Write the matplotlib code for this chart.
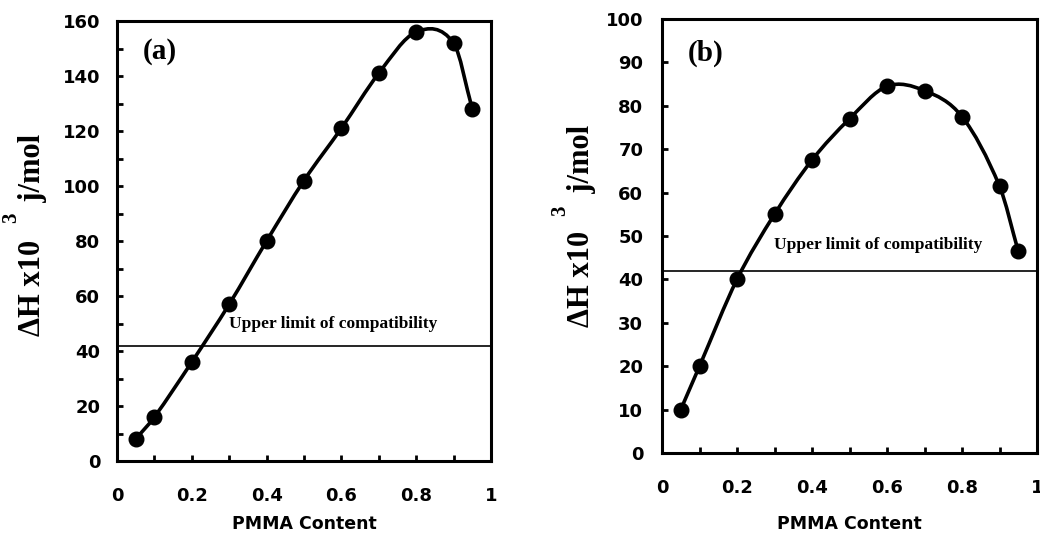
import numpy as np
import matplotlib
matplotlib.use('Agg')
import matplotlib.pyplot as plt
from matplotlib.path import Path
from matplotlib.patches import PathPatch

# data
pmma = [0.05, 0.1, 0.2, 0.3, 0.4, 0.5, 0.6, 0.7, 0.8, 0.9, 0.95]
dh_a = [8, 16, 36, 57, 80, 102, 121, 141, 156, 152, 128]
dh_b = [10, 20, 40, 55, 67.5, 77, 84.5, 83.5, 77.5, 61.5, 46.5]
limit = 42
panel_labels = ['(a)', '(b)']
xtick_vals = [0, 0.2, 0.4, 0.6, 0.8, 1]
xtick_text = ['0', '0.2', '0.4', '0.6', '0.8', '1']


def smooth_path(x, y):
    # Catmull-Rom through the points, drawn as cubic Bezier segments
    x = np.asarray(x, float)
    y = np.asarray(y, float)
    n = len(x)
    verts = [(x[0], y[0])]
    codes = [Path.MOVETO]
    for i in range(n - 1):
        i0 = max(i - 1, 0)
        i3 = min(i + 2, n - 1)
        h = x[i + 1] - x[i]
        m1 = (y[i + 1] - y[i0]) / (x[i + 1] - x[i0])
        m2 = (y[i3] - y[i]) / (x[i3] - x[i])
        verts += [(x[i] + h / 3, y[i] + m1 * h / 3),
                  (x[i + 1] - h / 3, y[i + 1] - m2 * h / 3),
                  (x[i + 1], y[i + 1])]
        codes += [Path.CURVE4] * 3
    return Path(verts, codes)


fig = plt.figure(figsize=(10.4, 5.42), dpi=100)
ax_a = fig.add_axes([117 / 1040, 1 - 461 / 542, 374 / 1040, 440 / 542])
ax_b = fig.add_axes([662 / 1040, 1 - 453 / 542, 375 / 1040, 434 / 542])

# ax, values, ymax, major step, minor start, ytick pad, text y, panel label y,
# ylabel x, ylabel y, xlabel y, exponent x, exponent y
settings = [
    (ax_a, dh_a, 160, 20, 10, 12, 50, 149, -0.186, 0.514, -0.123, -0.284, 0.553),
    (ax_b, dh_b, 100, 10, None, 13.5, 48, 92, -0.176, 0.523, -0.143, -0.272, 0.558),
]

for (ax, vals, ymax, ystep, yminor, ypad, txt_y, lab_y, ylx, yly, xly, ex, ey), plab in zip(settings, panel_labels):
    ax.add_patch(PathPatch(smooth_path(pmma, vals), fill=False, lw=2.6,
                           color='black', zorder=3))
    ax.plot(pmma, vals, 'o', color='black', ms=10.5, zorder=4)
    ax.axhline(limit, color='black', lw=1.2, zorder=2)
    ax.text(0.30, txt_y, 'Upper limit of compatibility', family='Liberation Serif',
            fontweight='bold', fontsize=12.5, va='center', ha='left')
    ax.text(0.068, lab_y, plab, family='Liberation Serif', fontweight='bold',
            fontsize=21, va='center', ha='left')

    ax.set_xlim(0, 1)
    ax.set_ylim(0, ymax)
    ax.set_xticks(xtick_vals)
    ax.set_xticklabels(xtick_text)
    ax.set_xticks(np.arange(0.1, 1.0, 0.2), minor=True)
    ax.set_yticks(np.arange(0, ymax + 1, ystep))
    if yminor:
        ax.set_yticks(np.arange(yminor, ymax, ystep), minor=True)
    ax.tick_params(axis='x', which='both', direction='in', length=4, width=2,
                   pad=19, labelsize=13)
    ax.tick_params(axis='y', which='both', direction='in', length=4, width=2,
                   pad=ypad, labelsize=13)
    for t in ax.get_xticklabels() + ax.get_yticklabels():
        t.set_family('DejaVu Sans')
        t.set_fontweight('bold')
    for s in ax.spines.values():
        s.set_linewidth(2.2)

    ax.set_xlabel('PMMA Content', family='DejaVu Sans', fontweight='bold',
                  fontsize=12.5, va='top')
    ax.xaxis.set_label_coords(0.5, xly)
    ax.set_ylabel('ΔH x10     j/mol', family='Liberation Serif',
                  fontweight='bold', fontsize=22)
    ax.yaxis.set_label_coords(ylx, yly)
    # raised exponent of the unit
    ax.text(ex, ey, '3', transform=ax.transAxes, rotation=90,
            family='Liberation Serif', fontweight='bold', fontsize=15,
            ha='center', va='center')

fig.savefig('out.png', dpi=100)
